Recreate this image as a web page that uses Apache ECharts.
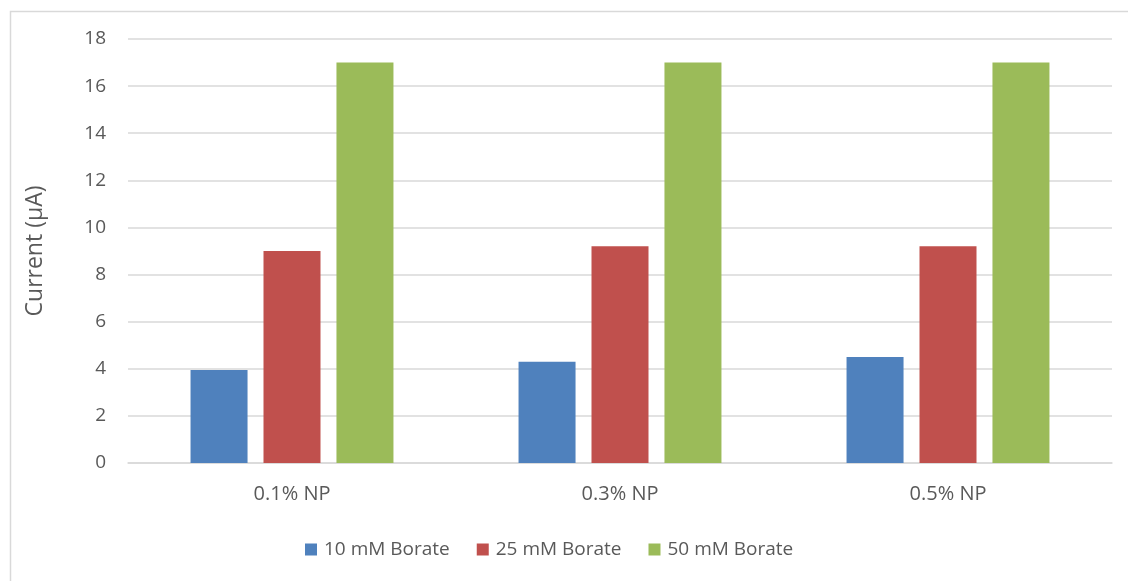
<!DOCTYPE html>
<html>
<head>
<meta charset="utf-8">
<script src="https://cdn.jsdelivr.net/npm/echarts@6/dist/echarts.min.js"></script>
<style>
  html, body { margin: 0; padding: 0; background: #ffffff; }
  #chart { width: 1128px; height: 581px; }
</style>
</head>
<body>
<div id="chart"></div>
<script>
// Nanoparticle loading on the x axis, one bar per borate concentration
const categories = ['0.1% NP', '0.3% NP', '0.5% NP'];
const seriesNames = ['10 mM Borate', '25 mM Borate', '50 mM Borate'];
const borate10 = [3.95, 4.3, 4.5];
const borate25 = [9.0, 9.2, 9.2];
const borate50 = [17, 17, 17];
const colors = ['#4f81bd', '#c0504d', '#9bbb59'];

const textColor = '#595959';
const fontFamily = '"Open Sans", "Noto Sans", sans-serif';

const chart = echarts.init(document.getElementById('chart'), null, { renderer: 'canvas' });

const values = [borate10, borate25, borate50];

chart.setOption({
  animation: false,
  backgroundColor: '#ffffff',
  textStyle: { fontFamily: fontFamily },
  graphic: [{
    type: 'rect',
    left: 8, top: 9,
    shape: { width: 1140, height: 590 },
    style: { fill: 'none', stroke: '#d9d9d9', lineWidth: 1.5 },
    silent: true
  }],
  grid: { left: 128, right: 16, top: 39, bottom: 118, containLabel: false },
  legend: {
    left: 300,
    top: 535,
    itemWidth: 12,
    itemHeight: 12,
    itemGap: 27,
    icon: 'rect',
    textStyle: { color: textColor, fontSize: 19, fontFamily: fontFamily, padding: [0, 0, 0, 2] },
    data: seriesNames
  },
  xAxis: {
    type: 'category',
    data: categories,
    axisLine: { show: true, lineStyle: { color: '#d9d9d9', width: 1.5 } },
    axisTick: { show: false },
    axisLabel: { color: textColor, fontSize: 20, margin: 21 }
  },
  yAxis: {
    type: 'value',
    min: 0, max: 18, interval: 2,
    name: 'Current (µA)',
    nameLocation: 'middle',
    nameGap: 81,
    nameTextStyle: { color: textColor, fontSize: 23 },
    axisLine: { show: false },
    axisTick: { show: false },
    axisLabel: { color: textColor, fontSize: 19, margin: 22 },
    splitLine: { lineStyle: { color: '#d9d9d9', width: 1.5 } }
  },
  series: seriesNames.map((name, i) => ({
    name: name,
    type: 'bar',
    data: values[i],
    barWidth: 57,
    barGap: '28%',
    itemStyle: { color: colors[i] }
  }))
});
</script>
</body>
</html>
